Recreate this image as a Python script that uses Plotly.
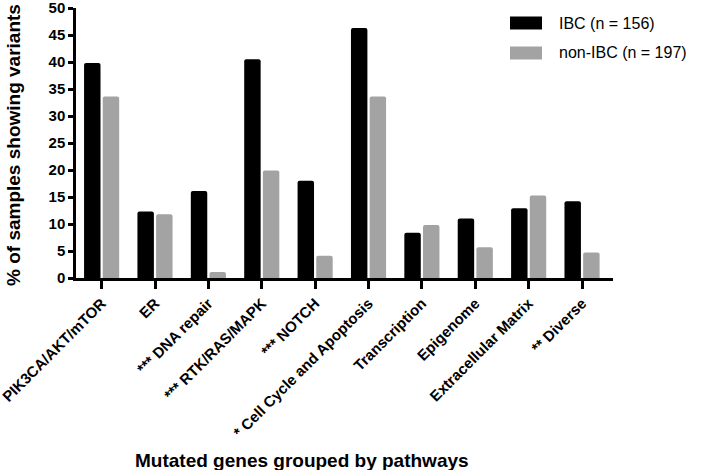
import plotly.graph_objects as go

categories = ["PIK3CA/AKT/mTOR", "ER", "*** DNA repair", "*** RTK/RAS/MAPK", "*** NOTCH",
              "* Cell Cycle and Apoptosis", "Transcription", "Epigenome",
              "Extracellular Matrix", "** Diverse"]
ibc = [39.8, 12.3, 16.1, 40.5, 18.0, 46.3, 8.4, 11.0, 12.9, 14.2]
non_ibc = [33.6, 11.8, 1.1, 19.9, 4.1, 33.6, 9.8, 5.7, 15.3, 4.7]
series_names = ["IBC (n = 156)", "non-IBC (n = 197)"]
y_ticks = [0, 5, 10, 15, 20, 25, 30, 35, 40, 45, 50]

W, H = 709, 470
L, R, T, B = 76, 613, 8, 278
FONT = "Liberation Sans, Arial, sans-serif"

def px_x(px):
    return (px - L) / (R - L)

def px_y(py):
    return (B - py) / (B - T)

fig = go.Figure()
fig.add_trace(go.Bar(x=categories, y=ibc, name=series_names[0],
                     marker=dict(color="#000000", line=dict(width=0), cornerradius=2)))
fig.add_trace(go.Bar(x=categories, y=non_ibc, name=series_names[1],
                     marker=dict(color="#a3a3a3", line=dict(width=0), cornerradius=2)))

# legend drawn manually
shapes = []
annotations = []
colors = ["#000000", "#a3a3a3"]
for i, (name, c) in enumerate(zip(series_names, colors)):
    cy = 23 + i * 30
    shapes.append(dict(type="rect", xref="paper", yref="paper",
                       x0=px_x(510), x1=px_x(542), y0=px_y(cy + 6.5), y1=px_y(cy - 6.5),
                       fillcolor=c, line=dict(width=0), layer="above"))
    annotations.append(dict(text=name, xref="paper", yref="paper", x=px_x(557), y=px_y(cy),
                            xanchor="left", yanchor="middle", showarrow=False,
                            font=dict(family=FONT, size=16, color="#000")))

annotations.append(dict(text="<b>% of samples showing variants</b>", xref="paper", yref="paper",
                        x=px_x(13), y=px_y(145), textangle=-90, xanchor="center", yanchor="middle",
                        showarrow=False, font=dict(family=FONT, size=19, color="#000")))
annotations.append(dict(text="<b>Mutated genes grouped by pathways</b>", xref="paper", yref="paper",
                        x=px_x(302), y=px_y(460), xanchor="center", yanchor="middle",
                        showarrow=False, font=dict(family=FONT, size=19, color="#000")))

fig.update_layout(
    width=W, height=H,
    margin=dict(l=L, r=W - R, t=T, b=H - B, pad=0, autoexpand=False),
    paper_bgcolor="white", plot_bgcolor="white",
    barmode="group", bargap=0.3, bargroupgap=0.12,
    showlegend=False,
    shapes=shapes, annotations=annotations,
    font=dict(family=FONT, color="#000"),
)
fig.update_xaxes(
    type="category", range=[-0.48, 9.58], automargin=False,
    showline=True, linecolor="#000", linewidth=2.5,
    ticks="outside", ticklen=8, tickwidth=2.5, tickcolor="#000",
    tickangle=-45, tickfont=dict(family=FONT, size=15, color="#000"),
    ticklabeloverflow="allow",
    showgrid=False, zeroline=False,
)
fig.update_xaxes(ticktext=["<b>" + c + "</b>" for c in categories], tickvals=categories)
fig.update_yaxes(
    range=[0, 50], tickvals=y_ticks, ticktext=["<b>%d</b>" % v for v in y_ticks], automargin=False,
    showline=True, linecolor="#000", linewidth=2.5,
    ticks="outside", ticklen=5, tickwidth=2.5, tickcolor="#000",
    tickfont=dict(family=FONT, size=15, color="#000"),
    ticklabeloverflow="allow",
    showgrid=False, zeroline=False,
)

fig.write_html("out.html", config={"displayModeBar": False},
               post_script="document.body.style.margin='0px';document.body.style.overflow='hidden';")
